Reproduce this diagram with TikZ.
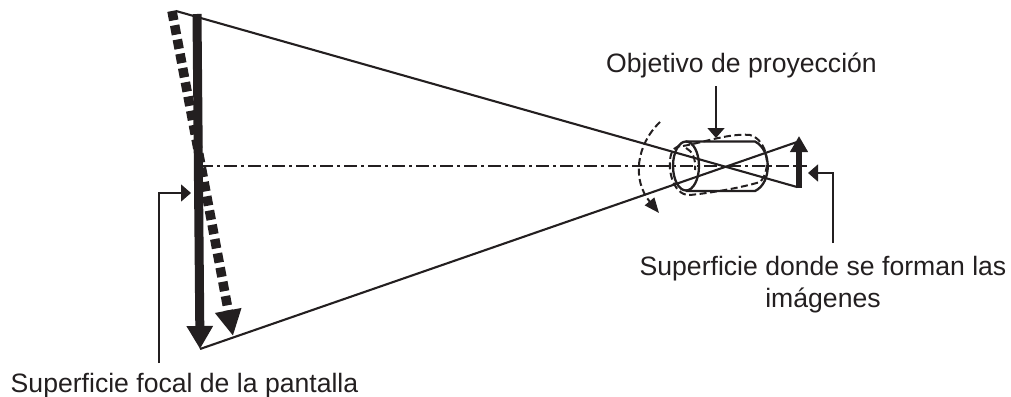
\documentclass[tikz,border=0pt]{standalone}
\usepackage{fontspec}
\setmainfont{Liberation Sans}
\usepackage{xcolor}
\usetikzlibrary{arrows.meta,positioning}
\definecolor{inkblack}{HTML}{231F20}
\definecolor{leadgray}{HTML}{58595B}
\tikzset{
  raybeam/.style={draw=inkblack, line width=2.1pt},
  axisline/.style={draw=inkblack, line width=1.7pt, dash pattern=on 13pt off 4pt on 3pt off 4pt},
  lensline/.style={draw=inkblack, line width=2.3pt},
  lensdash/.style={draw=inkblack, line width=2pt, dash pattern=on 7pt off 3.5pt},
  focalarrow/.style={draw=inkblack, line width=9pt, -{Triangle[length=23pt,width=25pt]}},
  tiltarrow/.style={draw=inkblack, line width=9.5pt, dash pattern=on 9.5pt off 5pt, -{Triangle[length=26pt,width=25pt]}},
  imagearrow/.style={draw=inkblack, line width=6pt, -{Triangle[length=16pt,width=17pt]}},
  leadarrow/.style={draw=leadgray, line width=1.5pt, -{Triangle[length=10pt,width=17pt]}, inkblack},
  swingarrow/.style={lensdash, -{Triangle[length=15pt,width=12pt]}},
  caption/.style={font=\fontsize{26.6pt}{32pt}\selectfont, text=inkblack, align=center, inner sep=0pt}
}
\begin{document}
\begin{tikzpicture}[x=1pt,y=-1pt]
  \useasboundingbox (0,0) rectangle (1011,396);
  % labels
  \node[caption, anchor=base] (lblobj) at (741.5,73) {Objetivo de proyección};
  \node[caption, anchor=center] (lblimg) at (823,285) {Superficie donde se forman las\\imágenes};
  \node[caption, anchor=base] (lblfoc) at (184.5,392) {Superficie focal de la pantalla};

  % key points
  \coordinate (focaltop) at (197,14);
  \coordinate (focaltip) at (200,349);
  \coordinate (tilttop) at (172,11);
  \coordinate (tilttip) at (233,336);
  \coordinate (raytop) at (176,11);
  \coordinate (imgtop) at (797,142);
  \coordinate (imgbot) at (797,187);
  \coordinate (lenstop) at (716,138);
  \coordinate (imgpoint) at (808,173);
  \coordinate (focpoint) at (191,193);
  \coordinate (objlead) at (716,86);
  \coordinate (imglead) at (833,243);
  \coordinate (foclead) at (159,363);

  % screen and rays
  \draw[focalarrow] (focaltop) -- (focaltip);
  \draw[tiltarrow] (tilttop) -- (tilttip);
  \draw[raybeam] (raytop) -- (imgbot);
  \draw[raybeam] (focaltip) -- (imgtop);
  \draw[axisline] (200,166) -- (807,166);
  \draw[imagearrow] (799,188) -- (799,136);

  % lens
  \draw[lensline] (686,166) ellipse [x radius=13, y radius=24.5];
  \draw[lensline] (686,141.5) -- (755,141.5) .. controls (772,150) and (772,183) .. (755,191) -- (686,191);
  \draw[lensdash] (683,146) .. controls (705,142) and (730,133) .. (750,135) .. controls (768,140) and (772,170) .. (760,182) .. controls (740,188) and (710,193) .. (690,195) .. controls (672,196) and (666,165) .. (672,152) .. controls (675,146) and (680,146) .. (683,146);
  \draw[lensdash] (686,148) .. controls (692,151) and (696,158) .. (695,170);
  \draw[swingarrow] (660,122) .. controls (636,145) and (632,180) .. (659,213);

  % leaders
  \draw[leadarrow] (objlead) -- (lenstop);
  \draw[leadarrow] (imglead) |- (imgpoint);
  \draw[leadarrow] (foclead) |- (focpoint);
\end{tikzpicture}
\end{document}
